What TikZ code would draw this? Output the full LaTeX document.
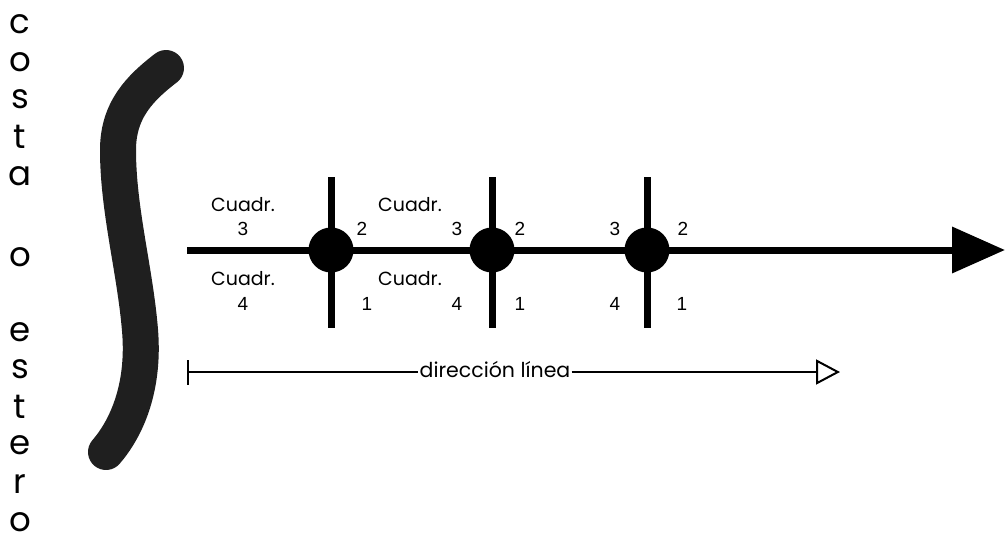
\documentclass[tikz,border=0pt]{standalone}
\usepackage{fontspec}
\setmainfont{Poppins}
\newfontfamily\numfont{Liberation Sans}
\usetikzlibrary{arrows.meta}
\tikzset{
  thick line/.style={line width=7pt, line cap=butt},
  junction/.style={circle, fill=black, minimum size=45pt, inner sep=0pt},
  quad/.style={font=\fontsize{19}{19}\selectfont, inner sep=0pt},
  num/.style={font=\numfont\fontsize{19}{19}\selectfont, inner sep=0pt},
  side/.style={font=\fontsize{34}{34}\selectfont, inner sep=0pt},
  dirtext/.style={font=\fontsize{20.5}{20.5}\selectfont, inner sep=1pt, fill=white},
  shore/.style={line width=36pt, line cap=round, line join=round, draw=black!88}
}
\begin{document}
\begin{tikzpicture}[x=1pt,y=-1pt]
\useasboundingbox (0,0) rectangle (1005,549);
% shore
\draw[shore] (166,68) .. controls (140,88) and (118,110) .. (118,150)
  .. controls (118,210) and (135,270) .. (140,330)
  .. controls (145,390) and (125,430) .. (106,452);
% side text
\foreach \ch/\yy [count=\i] in {c/24,o/62,s/99,t/137,a/176,o/257,e/332,s/369,t/407,e/445,r/484,o/522}
  \node[side] (s\i) at (20,\yy) {\ch};
% main line
\coordinate (m0) at (187,250);
\coordinate (m1) at (1005,250);
\draw[thick line, -{Triangle[length=53pt, width=45pt]}] (m0) -- (m1);
% crossings
\foreach \n/\xx in {1/331, 2/492, 3/647} {
  \coordinate (t\n) at (\xx,177);
  \coordinate (b\n) at (\xx,328);
  \draw[thick line] (t\n) -- (b\n);
  \node[junction] (c\n) at (\xx,250) {};
}
% labels
\node[quad] (q3a) at (243,205) {Cuadr.};
\node[num] (n3a) at (243,229) {3};
\node[quad] (q4a) at (243,279) {Cuadr.};
\node[num] (n4a) at (243,304) {4};
\node[num] (n2a) at (362,229) {2};
\node[num] (n1a) at (367,304) {1};
\node[quad] (q3b) at (410,205) {Cuadr.};
\node[quad] (q4b) at (410,279) {Cuadr.};
\node[num] (n3b) at (457,229) {3};
\node[num] (n4b) at (457,304) {4};
\node[num] (n2b) at (520,229) {2};
\node[num] (n1b) at (520,304) {1};
\node[num] (n3c) at (615,229) {3};
\node[num] (n4c) at (615,304) {4};
\node[num] (n2c) at (683,229) {2};
\node[num] (n1c) at (682,304) {1};
% direction line
\coordinate (d0) at (187,372);
\coordinate (d1) at (840,372);
\node[dirtext] (dt) at (495,370) {dirección línea};
\draw[line width=2pt, {Bar[width=25pt]}-] (d0) -- (dt.west |- d0);
\draw[line width=2pt, -{Triangle[open, length=24pt, width=25pt]}] (dt.east |- d1) -- (d1);
\end{tikzpicture}
\end{document}
